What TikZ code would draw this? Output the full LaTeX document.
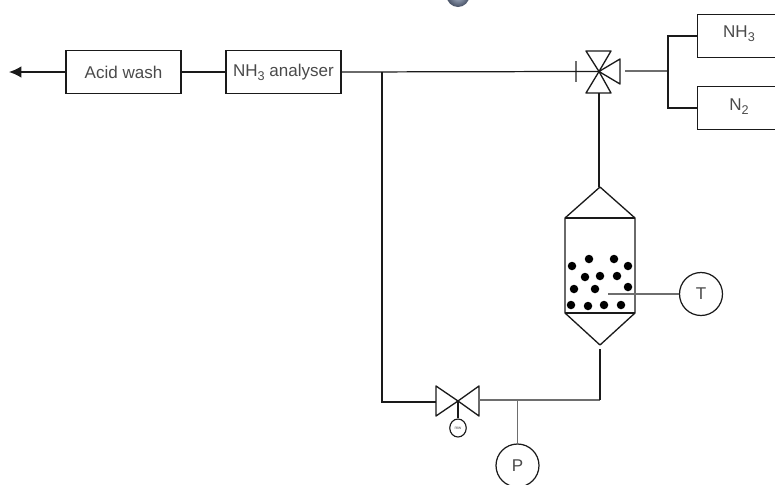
\documentclass[tikz,border=0pt]{standalone}
\usepackage{fontspec}
\setmainfont{Liberation Sans}
\usetikzlibrary{arrows.meta,shapes.geometric}
\definecolor{ng}{HTML}{1A1A1A}
\definecolor{txt}{HTML}{4A4A4A}
\definecolor{pipe}{HTML}{6E6E6E}
\definecolor{ballmid}{HTML}{B4C0D4}
\definecolor{ballrim}{HTML}{465064}
\newcommand{\lowsub}[1]{\raisebox{-0.45ex}{\fontsize{7.2}{8}\selectfont #1}}
\begin{document}
\begin{tikzpicture}[x=0.02cm,y=-0.02cm,
    every node/.style={font=\fontsize{9.7}{11}\selectfont, text=txt, align=center},
    box/.style={draw=ng, line width=0.7pt, minimum width=2.3cm, minimum height=0.86cm, inner sep=0pt},
    inst/.style={circle, draw=ng, line width=0.7pt, minimum size=0.86cm, inner sep=0pt},
    br/.style={line width=0.7pt, color=ng},
    thickbr/.style={line width=1.1pt, color=pipe},
    vessel/.style={line width=0.75pt, color=ng, line join=round},
    grain/.style={circle, fill=black, inner sep=0pt, minimum size=0.17cm}
  ]
  \useasboundingbox (0,0) rectangle (775,484);
  \clip (0,0) rectangle (775,484);

  % ---- boxes ----
  \node[box] (acid) at (123.5,72) {Acid wash};
  \node[box] (ana)  at (283.5,72) {NH\lowsub{3} analyser};
  \node[box, anchor=west] (nh3) at (697,36)  {};
  \node[box, anchor=west] (n2)  at (697,108) {};
  \node (nh3txt) at (739,34)  {NH\lowsub{3}};
  \node (n2txt)  at (739,107) {N\lowsub{2}};

  % ---- outlet ----
  \coordinate (out) at (9,72);
  \draw[br, -{Latex[length=7pt,width=6.5pt]}] (acid.west) -- (out);
  \draw[br] (acid.east) -- (ana.west);

  % ---- three way valve ----
  \coordinate (v3) at (599,71.5);
  \coordinate (v3bar) at (576,71.5);
  \draw[vessel] (v3) -- (586,51) -- (611,51) -- cycle;
  \draw[vessel] (v3) -- (586,93) -- (611,93) -- cycle;
  \draw[vessel] (v3) -- (620,59) -- (620,84) -- cycle;
  \draw[thickbr] (576,61) -- (576,82);
  \draw[br] (ana.east) -- (v3bar) -- (v3);
  \coordinate (v3out) at (625,71);
  \coordinate (split) at (668,71);
  \draw[thickbr] (v3out) -- (split);
  \draw[br] (nh3.west) -| (split) |- (n2.west);

  % ---- reactor ----
  \coordinate (top) at (600,187);
  \coordinate (bot) at (600,345);
  \draw[vessel] (565,218) -- (top) -- (635,218) -- (635,313) -- (bot) -- (565,313) -- cycle;
  \draw[vessel] (565,218) -- (635,218);
  \draw[vessel] (565,313) -- (635,313);
  \draw[br] (599,93) -- (599,187);
  \foreach \gx/\gy [count=\gi] in {572/266,589/259,614/259,628/266,585/277,600/276,617/276,574/289,595/289,628/287,571/305,588/306,604/305,621/305}
    \node[grain] (g\gi) at (\gx,\gy) {};

  % ---- temperature ----
  \node[inst] (T) at (701,294) {T};
  \coordinate (Tin) at (608,294);
  \draw[thickbr] (Tin) -- (T.west);

  % ---- return line ----
  \coordinate (v2) at (458,401);
  \coordinate (tee) at (382,72);
  \coordinate (teeb) at (382,402);
  \draw[vessel] (v2) -- (436,386) -- (436,416) -- cycle;
  \draw[vessel] (v2) -- (479,386) -- (479,416) -- cycle;
  \draw[br] (tee) -- (teeb) -- (436,402);
  \draw[thickbr] (479,400) -- (600,400);
  \draw[br] (600,400) -- (600,349);

  % ---- gauge and pressure ----
  \node[draw=ng, ellipse, line width=0.65pt, minimum width=0.33cm, minimum height=0.36cm, inner sep=0pt,
        font=\fontsize{2.5}{3}\selectfont] (gauge) at (458,428) {mw};
  \draw[br] (v2) -- (gauge.north);
  \node[inst] (P) at (517.5,465.5) {P};
  \coordinate (Ptee) at (517.5,400);
  \draw[thickbr] (Ptee) -- (P.north);

  % ---- ball, cut by the top edge ----
  \shade[inner color=ballmid, outer color=ballrim] (458,-4.5) circle (11.5);
\end{tikzpicture}
\end{document}
